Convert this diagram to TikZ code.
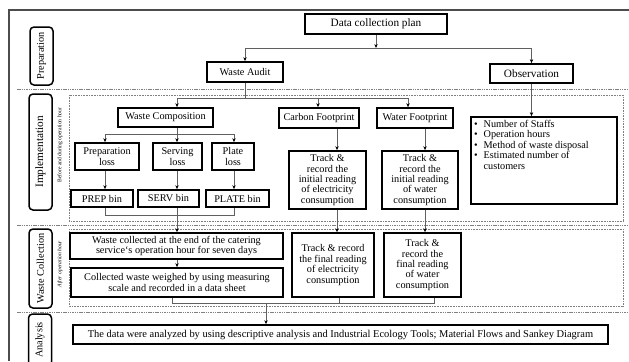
\documentclass[tikz,border=0pt]{standalone}
\usepackage{fontspec}
\setmainfont{Liberation Serif}
\usetikzlibrary{arrows.meta}
\newcommand\mkbox[6]{\node[box, minimum width=#4bp, minimum height=#5bp] (#1) at (#2,#3) {#6};}
\newcommand\mklab[5]{\node[lab, minimum width=#4bp, minimum height=23bp] (#1) at (#2,#3) {#5};}
\begin{document}
\begin{tikzpicture}[x=1bp,y=-1bp,
 box/.style={draw=black, line width=1.7bp, align=center, inner sep=0pt, font=\fontsize{10.3}{10.5}\selectfont},
 lab/.style={draw=black, line width=1.5bp, rounded corners=4bp, rotate=90, inner sep=0pt, font=\fontsize{10.3}{12}\selectfont},
 sub/.style={rotate=90, inner sep=0pt, font=\fontsize{5.6}{6}\selectfont},
 conn/.style={draw=gray!75!black, line width=0.6bp},
 arr/.style={conn, -{Stealth[length=4bp,width=3.4bp,black]}},
 sep/.style={draw=gray, line width=0.7bp, dash pattern=on 1.5bp off 0.8bp},
 dotbox/.style={draw=gray, line width=0.6bp, dash pattern=on 0.8bp off 0.8bp},
 frame/.style={draw=gray!60!black, line width=1.6bp},
]
\useasboundingbox (0,0) rectangle (629,361);
% frame and separators
\draw[frame] (9,361) -- (9,10) -- (629,10);
\draw[sep] (17,89) -- (629,89);
\draw[sep] (17,225) -- (629,225);
\draw[sep] (17,312) -- (629,312);
\draw[dotbox] (69,95) rectangle (623,221);
\draw[dotbox] (69,229) rectangle (623,306);
% phase labels
\mklab{lprep}{41.5}{56}{58}{Preparation}
\mklab{limpl}{40.5}{152}{116}{\fontsize{11.3}{12}\selectfont Implementation}
\mklab{lwc}{40.5}{268.5}{79}{Waste Collection}
\mklab{lana}{40}{340}{52}{Analysis}
\node[sub] (s1) at (60,145) {Before and during operation hour};
\node[sub] (s2) at (60,264) {\itshape After operation hour};
% boxes
\mkbox{dcp}{376}{24}{142}{20}{\fontsize{11.3}{12}\selectfont Data collection plan}
\mkbox{audit}{245}{72}{76}{20}{Waste Audit}
\mkbox{obs}{531.5}{73.5}{83}{19}{\fontsize{11.3}{12}\selectfont Observation}
\mkbox{wcomp}{165.5}{117.5}{95}{19}{Waste Composition}
\mkbox{cfp}{319}{118}{80}{20}{Carbon Footprint}
\mkbox{wfp}{415}{118}{76}{20}{Water Footprint}
\mkbox{ploss}{107}{156.5}{64}{27}{Preparation\\loss}
\mkbox{sloss}{177.5}{156.5}{49}{27}{Serving\\loss}
\mkbox{plloss}{233}{156.5}{42}{27}{Plate\\loss}
\mkbox{pbin}{102}{198.5}{62}{17}{PREP bin}
\mkbox{sbin}{168.5}{198.5}{61}{17}{SERV bin}
\mkbox{plbin}{237.5}{198.5}{63}{17}{PLATE bin}
\mkbox{cinit}{327.5}{180}{77}{58}{Track \&\\record the\\initial reading\\of electricity\\consumption}
\mkbox{winit}{420}{180}{76}{58}{Track \&\\record the\\initial reading\\of water\\consumption}
\mkbox{wc1}{176.5}{246}{213}{26}{Waste collected at the end of the catering\\service‘s operation hour for seven days}
\mkbox{wc2}{177}{282.5}{212}{29}{Collected waste weighed by using measuring\\scale and recorded in a data sheet}
\mkbox{cfin}{333}{265}{82}{64}{Track \& record\\the final reading\\of electricity\\consumption}
\mkbox{wfin}{422.5}{265}{77}{64}{Track \&\\record the\\final reading\\of water\\consumption}
\mkbox{ana}{340.5}{334.5}{535}{19}{\fontsize{10.5}{12}\selectfont The data were analyzed by using descriptive analysis and Industrial Ecology Tools; Material Flows and Sankey Diagram}
\node[box, minimum width=146bp, minimum height=87bp] (obox) at (544,160.5) {%
\begin{minipage}[t][81bp][t]{140bp}\raggedright
\begin{tabular}{@{}l@{\hspace{6bp}}l@{}}
\textbullet & Number of Staffs\\
\textbullet & Operation hours\\
\textbullet & Method of waste disposal\\
\textbullet & Estimated number of\\
 & customers
\end{tabular}\end{minipage}};
% column coordinates
\coordinate (x105) at (105,0);
\coordinate (x177) at (177,0);
\coordinate (x234) at (234,0);
\coordinate (x318) at (318,0);
\coordinate (x337) at (337,0);
\coordinate (x408) at (408,0);
\coordinate (x425) at (425,0);
\coordinate (x172) at (172,0);
\coordinate (x339) at (339,0);
\coordinate (x434) at (434,0);
\coordinate (x266) at (266,0);
\coordinate (j1) at (376,48);
\coordinate (j2) at (0,98);
\coordinate (j3) at (0,134);
\coordinate (j4) at (0,215);
\coordinate (j5) at (0,303);
% connectors
\draw[arr] (dcp.south) -- (j1);
\draw[conn] (audit.north |- j1) -- (obs.north |- j1);
\draw[arr] (audit.north |- j1) -- (audit.north);
\draw[arr] (obs.north |- j1) -- (obs.north);
\draw[conn] (audit.south) -- (audit.south |- j2);
\draw[conn] (x177 |- j2) -- (x408 |- j2);
\draw[arr] (x177 |- j2) -- (wcomp.north -| x177);
\draw[arr] (x318 |- j2) -- (cfp.north -| x318);
\draw[arr] (x408 |- j2) -- (wfp.north -| x408);
\draw[conn] (wcomp.south -| x177) -- (x177 |- j3);
\draw[conn] (x105 |- j3) -- (x234 |- j3);
\draw[arr] (x105 |- j3) -- (ploss.north -| x105);
\draw[arr] (x177 |- j3) -- (sloss.north -| x177);
\draw[arr] (x234 |- j3) -- (plloss.north -| x234);
\draw[arr] (ploss.south -| x105) -- (pbin.north -| x105);
\draw[arr] (sloss.south -| x177) -- (sbin.north -| x177);
\draw[arr] (plloss.south -| x234) -- (plbin.north -| x234);
\draw[conn] (pbin.south -| x105) -- (x105 |- j4) -- (x234 |- j4) -- (plbin.south -| x234);
\draw[arr] (sbin.south -| x177) -- (wc1.north -| x177);
\draw[arr] (wc1.south -| x177) -- (wc2.north -| x177);
\draw[arr] (cfp.south -| x337) -- (cinit.north -| x337);
\draw[arr] (wfp.south -| x425) -- (winit.north -| x425);
\draw[arr] (cinit.south -| x337) -- (cfin.north -| x337);
\draw[arr] (winit.south -| x425) -- (wfin.north -| x425);
\draw[arr] (obs.south) -- (obox.north -| obs.south);
\draw[conn] (wc2.south -| x172) -- (x172 |- j5) -- (x434 |- j5) -- (wfin.south -| x434);
\draw[conn] (cfin.south -| x339) -- (x339 |- j5);
\draw[arr] (x266 |- j5) -- (ana.north -| x266);
\end{tikzpicture}
\end{document}
